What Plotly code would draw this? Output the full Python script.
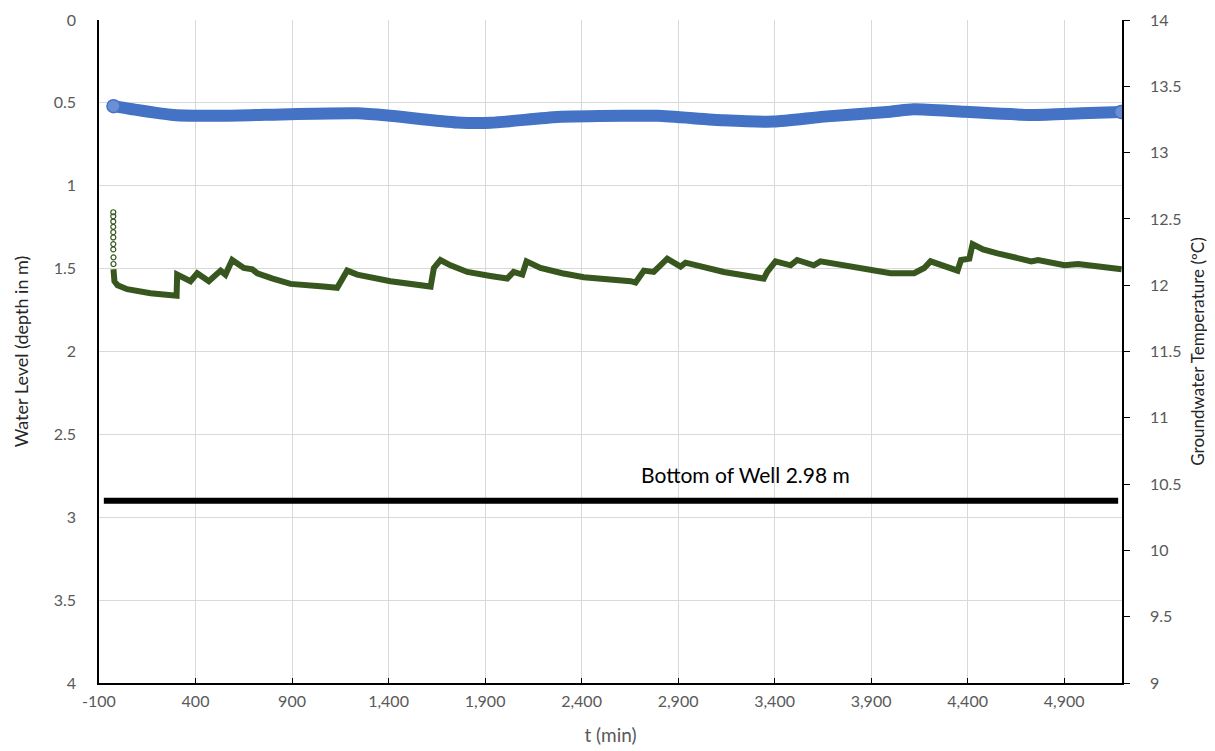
import plotly.graph_objects as go

# ---- data ----
# Water level (depth in m) vs time (min)
wl_t = [-25, 65, 285, 545, 890, 1240, 1410, 1755, 1930, 2275, 2620, 2795,
        3135, 3395, 3655, 4000, 4120, 4385, 4730, 4990, 5195]
wl_depth = [0.52, 0.537, 0.573, 0.578, 0.568, 0.563, 0.578, 0.618, 0.62, 0.585,
            0.578, 0.578, 0.605, 0.613, 0.583, 0.553, 0.539, 0.554, 0.573, 0.563, 0.555]

# Initial temperature equilibration (sparse points)
spike_t = [-26, -26, -26, -26, -26, -26, -26, -26, -25, -25]
spike_T = [12.55, 12.52, 12.48, 12.44, 12.40, 12.36, 12.31, 12.27, 12.21, 12.16]

# Groundwater temperature (degC) vs time (min)
gt_t = [-25, -20, -4, 46, 167, 288, 302, 305, 374, 409, 469, 530, 555, 590, 650,
        694, 720, 800, 892, 1063, 1134, 1186, 1238, 1410, 1618, 1635, 1669, 1721, 1808,
        1928, 2015, 2048, 2093, 2115, 2187, 2300, 2412, 2654, 2680, 2723, 2774, 2844,
        2913, 2939, 3137, 3344, 3362, 3405, 3483, 3517, 3603, 3638, 3828, 4001,
        4123, 4175, 4208, 4348, 4366, 4409, 4426, 4480, 4555, 4640, 4730, 4765, 4902,
        4973, 5198]
gt_T = [12.12, 12.03, 12.00, 11.97, 11.94, 11.92, 11.92, 12.08, 12.03, 12.09, 12.03,
        12.11, 12.08, 12.19, 12.13, 12.12, 12.09, 12.05, 12.01, 11.99, 11.98, 12.11, 12.08,
        12.03, 11.99, 12.13, 12.19, 12.15, 12.10, 12.07, 12.05, 12.10, 12.08, 12.18,
        12.13, 12.09, 12.06, 12.03, 12.02, 12.11, 12.10, 12.20, 12.14, 12.17, 12.10, 12.05,
        12.10, 12.18, 12.15, 12.19, 12.15, 12.18, 12.13, 12.09, 12.09, 12.13, 12.18,
        12.11, 12.19, 12.20, 12.31, 12.27, 12.24, 12.21, 12.18, 12.19, 12.15, 12.16, 12.12]

# Bottom of well reference line
well_t = [-75, 5180]
well_depth = [2.9, 2.9]
well_label = "Bottom of Well 2.98 m"

x_ticks = [-100, 400, 900, 1400, 1900, 2400, 2900, 3400, 3900, 4400, 4900]
x_ticktext = ["-100", "400", "900", "1,400", "1,900", "2,400", "2,900", "3,400",
              "3,900", "4,400", "4,900"]
left_ticks = [0, 0.5, 1, 1.5, 2, 2.5, 3, 3.5, 4]
left_ticktext = ["0", "0.5", "1", "1.5", "2", "2.5", "3", "3.5", "4"]
right_ticks = [9, 9.5, 10, 10.5, 11, 11.5, 12, 12.5, 13, 13.5, 14]
right_ticktext = ["9", "9.5", "10", "10.5", "11", "11.5", "12", "12.5", "13", "13.5", "14"]

FONT = "Lato"
TICK_COLOR = "#595959"
GRID = "#d9d9d9"

fig = go.Figure()

fig.add_trace(go.Scatter(
    x=well_t, y=well_depth, mode="lines",
    line=dict(color="black", width=6), yaxis="y", showlegend=False,
    hoverinfo="skip"))

fig.add_trace(go.Scatter(
    x=spike_t, y=spike_T, mode="markers", yaxis="y2",
    marker=dict(symbol="circle-open", size=5, color="#38571f",
                line=dict(width=1.2, color="#38571f")),
    showlegend=False))

fig.add_trace(go.Scatter(
    x=gt_t, y=gt_T, mode="lines", yaxis="y2",
    line=dict(color="#38571f", width=6), showlegend=False))

fig.add_trace(go.Scatter(
    x=wl_t, y=wl_depth, mode="lines", yaxis="y",
    line=dict(color="#4472C4", width=12, shape="spline", smoothing=0.6),
    showlegend=False))

fig.add_trace(go.Scatter(
    x=[wl_t[0], wl_t[-1]], y=[wl_depth[0], wl_depth[-1]], mode="markers",
    yaxis="y",
    marker=dict(size=13, color="#6b8fd6", line=dict(width=1.5, color="#4472C4")),
    showlegend=False))

fig.add_annotation(
    x=3250, y=2.74, xref="x", yref="y", text=well_label, showarrow=False,
    font=dict(family=FONT, size=21, color="black"))

fig.update_layout(
    width=1215, height=751,
    margin=dict(l=90.5, r=101.4, t=12, b=76, autoexpand=False),
    paper_bgcolor="white", plot_bgcolor="white",
    font=dict(family=FONT, size=16, color=TICK_COLOR),
    xaxis=dict(
        range=[-100, 5200], tickvals=x_ticks, ticktext=x_ticktext,
        showgrid=True, gridcolor=GRID, gridwidth=1,
        showline=True, linecolor="black", linewidth=1.5,
        ticks="inside", ticklen=5, tickcolor="black", tickwidth=1,
        zeroline=False, ticklabelstandoff=3, automargin=False,
        title=dict(text="t (min)", font=dict(family=FONT, size=19, color=TICK_COLOR),
                   standoff=20),
        tickfont=dict(family=FONT, size=16, color=TICK_COLOR),
    ),
    yaxis=dict(
        range=[4, 0], tickvals=left_ticks, ticktext=left_ticktext,
        showgrid=True, gridcolor=GRID, gridwidth=1,
        showline=True, linecolor="black", linewidth=1.5,
        ticks="", zeroline=False, ticklabelstandoff=18, automargin=False,
        title=dict(text="Water Level (depth in m)",
                   font=dict(family=FONT, size=18, color="#262626"), standoff=20),
        tickfont=dict(family=FONT, size=16, color=TICK_COLOR),
    ),
    yaxis2=dict(
        range=[9, 14], tickvals=right_ticks, ticktext=right_ticktext,
        overlaying="y", side="right", showgrid=False,
        showline=True, linecolor="black", linewidth=1.5,
        ticks="outside", ticklen=6, tickcolor="black", tickwidth=1,
        zeroline=False, ticklabelstandoff=17, automargin=False,
        title=dict(text="Groundwater Temperature (ºC)",
                   font=dict(family=FONT, size=17, color="#262626"), standoff=12),
        tickfont=dict(family=FONT, size=16, color=TICK_COLOR),
    ),
)

fig.write_html("out.html")
